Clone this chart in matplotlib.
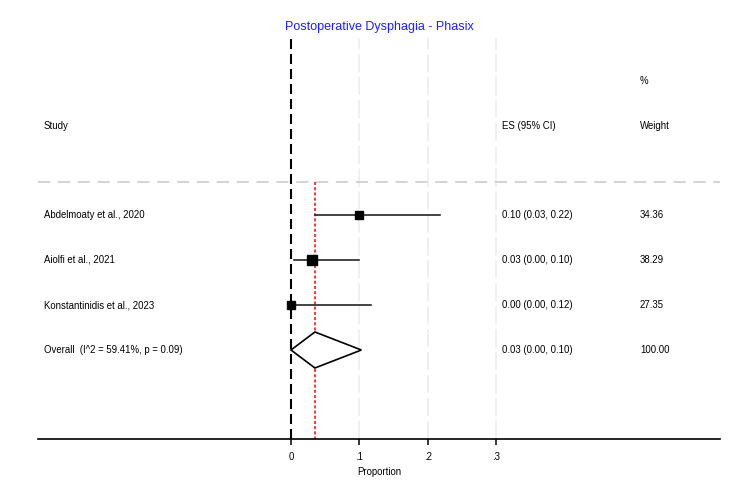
import matplotlib
matplotlib.use("Agg")
import matplotlib.pyplot as plt
from matplotlib.patches import Polygon
import numpy as np

plt.rcParams['font.family'] = ['Liberation Sans', 'DejaVu Sans']

studies = ["Abdelmoaty et al., 2020", "Aiolfi et al., 2021", "Konstantinidis et al., 2023"]
es = [0.10, 0.03, 0.00]
lo = [0.035, 0.004, 0.00]
hi = [0.218, 0.10, 0.117]
es_labels = ["0.10 (0.03, 0.22)", "0.03 (0.00, 0.10)", "0.00 (0.00, 0.12)"]
weights = [34.36, 38.29, 27.35]
weight_labels = ["34.36", "38.29", "27.35"]
overall_label = "Overall  (I^2 = 59.41%, p = 0.09)"
overall_es = 0.035
overall_lo = 0.00
overall_hi = 0.103
overall_es_label = "0.03 (0.00, 0.10)"
overall_weight_label = "100.00"
xticks = [0, 0.1, 0.2, 0.3]
xtick_labels = ["0", ".1", ".2", ".3"]

W, H = 750, 497
fig = plt.figure(figsize=(7.5, 4.97), dpi=100)
ax = fig.add_axes([38 / W, (H - 439) / H, (720 - 38) / W, (439 - 38) / H])

px_per_unit = (496 - 291) / 0.3
xmin = (38 - 291) / px_per_unit
xmax = (720 - 291) / px_per_unit
ax.set_xlim(xmin, xmax)
row0, step = 215, 45
def ypx(p):
    return (p - row0) / step
ax.set_ylim(ypx(439), ypx(38))

fs = 6.9
# grid lines
for t in xticks[1:]:
    ax.axvline(t, color='#ececec', lw=1.1, ls=(0, (12, 3)), zorder=0)
ax.axvline(0, color='black', lw=1.5, ls=(0, (4.8, 2.4)), zorder=2)
ax.plot([overall_es, overall_es], [ypx(182), ypx(439)], color='red', lw=1.1, ls=(0, (2, 1.4)), zorder=2)
ax.plot([xmin, xmax], [ypx(182), ypx(182)], color='#c8c8c8', lw=1.1, ls=(0, (8, 5)), zorder=1)

text_x = xmin + 6 / px_per_unit
es_x = (502 - 291) / px_per_unit
w_x = (640 - 291) / px_per_unit

ax.text(text_x, ypx(126), "Study", fontsize=fs, va='center', ha='left')
ax.text(es_x, ypx(126), "ES (95% CI)", fontsize=fs, va='center', ha='left')
ax.text(w_x, ypx(81), "%", fontsize=fs, va='center', ha='left')
ax.text(w_x, ypx(126), "Weight", fontsize=fs, va='center', ha='left')

for i, (s, e, l, h, el, w, wl) in enumerate(zip(studies, es, lo, hi, es_labels, weights, weight_labels)):
    y = i
    ax.plot([l, h], [y, y], color='#1a1a1a', lw=1.15, zorder=3)
    ax.plot([e], [y], marker='s', color='black', markersize=1.1 * np.sqrt(w), zorder=4)
    ax.text(text_x, y, s, fontsize=fs, va='center', ha='left')
    ax.text(es_x, y, el, fontsize=fs, va='center', ha='left')
    ax.text(w_x, y, wl, fontsize=fs, va='center', ha='left')

yo = 3
d = 0.4
poly = Polygon([[overall_lo, yo], [overall_es, yo - d], [overall_hi, yo], [overall_es, yo + d]],
               closed=True, fill=True, facecolor='white', edgecolor='black', lw=1.2, zorder=4)
ax.add_patch(poly)
ax.text(text_x, yo, overall_label, fontsize=fs, va='center', ha='left')
ax.text(es_x, yo, overall_es_label, fontsize=fs, va='center', ha='left')
ax.text(w_x, yo, overall_weight_label, fontsize=fs, va='center', ha='left')

for sp in ['top', 'left', 'right']:
    ax.spines[sp].set_visible(False)
ax.spines['bottom'].set_linewidth(1.2)
ax.set_yticks([])
ax.set_xticks(xticks)
ax.set_xticklabels(xtick_labels, fontsize=fs)
ax.tick_params(axis='x', length=4.3, width=1.1, pad=5)
ax.set_xlabel("Proportion", fontsize=fs, labelpad=4)

fig.text((291 + 0.1 * px_per_unit + 20) / W, 1 - 27 / H, "Postoperative Dysphagia - Phasix",
         color='#2020ff', fontsize=9, ha='center', va='center')

fig.savefig("out.png", dpi=100)
